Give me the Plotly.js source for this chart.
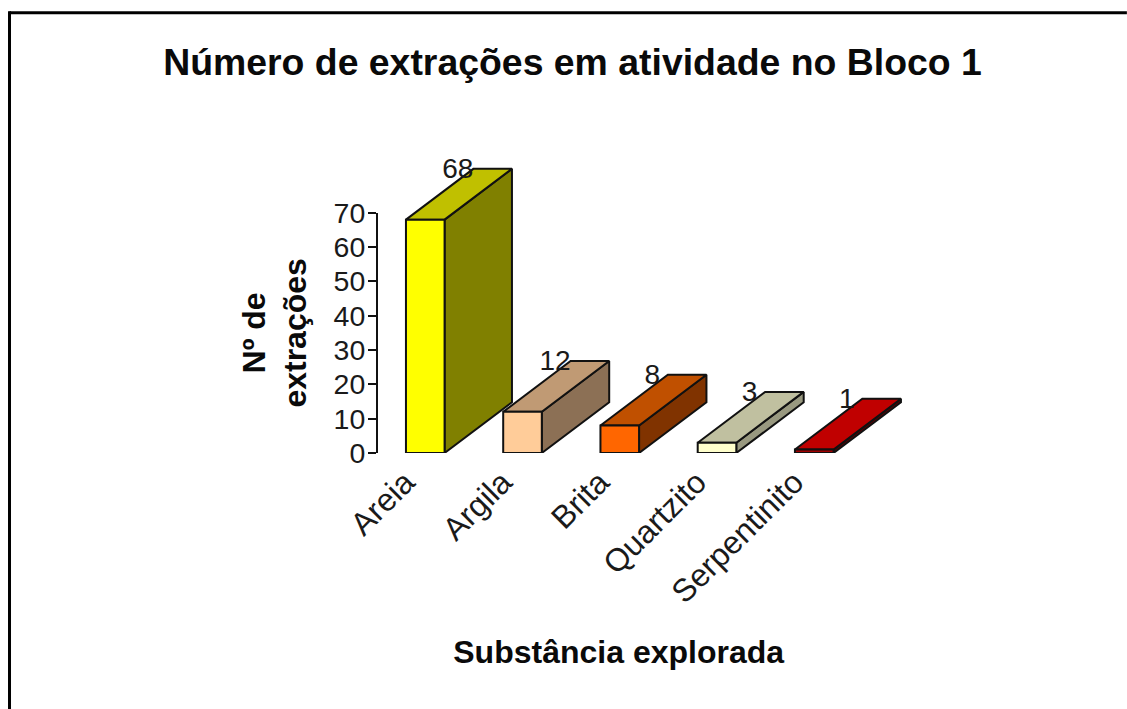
<!DOCTYPE html>
<html><head><meta charset="utf-8">
<script src="https://cdn.plot.ly/plotly-3.0.0.min.js"></script>
<style>html,body{margin:0;padding:0;background:#fff}#c{width:1127px;height:709px}</style>
</head><body><div id="c"></div>
<script>
const categories = ["Areia","Argila","Brita","Quartzito","Serpentinito"];
const values = [68,12,8,3,1];
const frontColors = ["#FFFF00","#FFCC99","#FF6600","#FFFFCC","#A00000"];
const sideColors = ["#808000","#8C7055","#803300","#999980","#600000"];
const topColors = ["#C0C000","#C09A74","#C05000","#C0C0A0","#C00000"];
const yTicks = [0,10,20,30,40,50,60,70];
const barWidth = 0.397, depthX = 0.693, depthY = 14.8;
const ink = "#111111";
const font = "Liberation Sans, Arial, sans-serif";
const W=1127,H=709,l=377.7,right=920,top_=150,bottom=452.7;
const pw=right-l, ph=bottom-top_;
const unitX=97.3, unitY=240/70;
const x0=-0.486;
const axisW=481.6;
const wideX=[x0,x0+pw/unitX], wideY=[0,ph/unitY];

const traces = [];
// carrier for the visible axes
traces.push({type:"scatter",mode:"none",x:[0],y:[0],xaxis:"x",yaxis:"y",showlegend:false,hoverinfo:"skip"});
categories.forEach((c,i)=>{
  const v = values[i], L = i-barWidth/2, R = i+barWidth/2;
  traces.push({type:"scatter",mode:"lines",fill:"toself",fillcolor:sideColors[i],xaxis:"x2",yaxis:"y2",showlegend:false,hoverinfo:"skip",
    line:{color:ink,width:2},
    x:[R,R+depthX,R+depthX,R,R],y:[0,depthY,v+depthY,v,0]});
  traces.push({type:"scatter",mode:"lines",fill:"toself",fillcolor:topColors[i],xaxis:"x2",yaxis:"y2",showlegend:false,hoverinfo:"skip",
    line:{color:ink,width:2},
    x:[L,L+depthX,R+depthX,R,L],y:[v,v+depthY,v+depthY,v,v]});
});
traces.push({type:"bar",x:categories.map((c,i)=>i),y:values,width:barWidth,xaxis:"x3",yaxis:"y3",cliponaxis:false,showlegend:false,hoverinfo:"skip",
  marker:{color:frontColors,line:{color:ink,width:2}}});
traces.push({type:"scatter",mode:"text",x:categories.map((c,i)=>i+0.335),y:values.map(v=>v+14.2),text:values.map(String),xaxis:"x3",yaxis:"y3",
  cliponaxis:false,showlegend:false,hoverinfo:"skip",textposition:"middle center",textfont:{family:font,size:28,color:"#1a1a1a"}});

const hidden=(r)=>({range:r,domain:[0,1],visible:false,fixedrange:true});
const px=x=>(x-l)/pw, py=y=>(bottom-y)/ph;
const layout={width:W,height:H,paper_bgcolor:"#fff",plot_bgcolor:"rgba(0,0,0,0)",showlegend:false,
  margin:{l:l,r:W-right,t:top_,b:H-bottom,pad:0},font:{family:font,color:"#111"},
  title:{text:"<b>Número de extrações em atividade no Bloco 1</b>",font:{family:font,size:37.4,color:"#0a0a0a"},x:572.5/W,xanchor:"center",y:1-62/H,yanchor:"middle"},
  xaxis:{domain:[0,axisW/pw],range:[x0,x0+axisW/unitX],anchor:"y",tickmode:"array",tickvals:categories.map((c,i)=>i),ticktext:categories,tickangle:-45,ticks:"",showline:false,showgrid:false,zeroline:false,
    ticklabelshift:-20,ticklabelstandoff:3,tickfont:{family:font,size:32,color:"#1a1a1a"},automargin:false,
    title:{text:"<b>Substância explorada</b>",font:{family:font,size:32,color:"#0a0a0a"},standoff:31}},
  yaxis:{domain:[0,240/ph],range:[0,70],anchor:"x",tickmode:"array",tickvals:yTicks,ticks:"outside",ticklen:8,tickwidth:2,tickcolor:ink,showline:true,linecolor:ink,linewidth:2,showgrid:false,zeroline:false,
    ticklabelstandoff:-3,tickfont:{family:font,size:28.5,color:"#1a1a1a"},automargin:false,
    title:{text:"<b>Nº de<br>extrações</b>",font:{family:font,size:32,color:"#0a0a0a"},standoff:17}},
  xaxis2:Object.assign(hidden(wideX),{anchor:"y2"}), yaxis2:Object.assign(hidden(wideY),{anchor:"x2"}),
  xaxis3:Object.assign(hidden(wideX),{anchor:"y3"}), yaxis3:Object.assign(hidden(wideY),{anchor:"x3"}),
  shapes:[
    {type:"line",xref:"paper",yref:"paper",layer:"above",x0:px(9),x1:px(W),y0:py(13),y1:py(13),line:{color:"#000",width:3}},
    {type:"line",xref:"paper",yref:"paper",layer:"above",x0:px(9),x1:px(9),y0:py(11.5),y1:py(H),line:{color:"#000",width:3}}
  ]
};
Plotly.newPlot("c",traces,layout,{displayModeBar:false,staticPlot:true});
</script></body></html>
